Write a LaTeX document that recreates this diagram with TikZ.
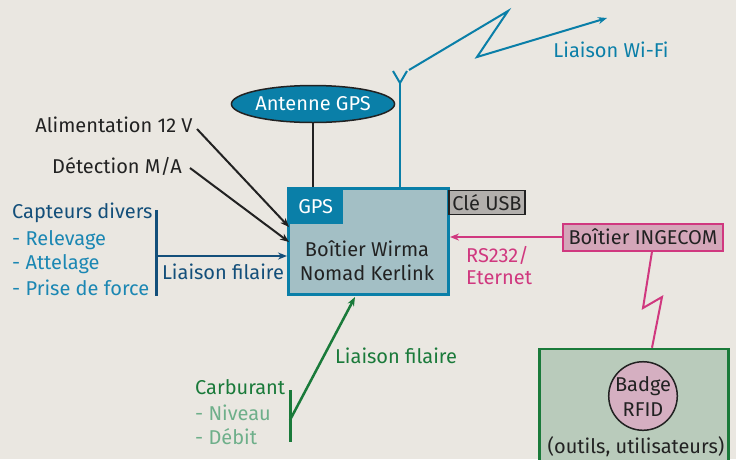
\documentclass[tikz,border=0pt]{standalone}
\usepackage{fontspec}
\setmainfont{Fira Sans}
\usetikzlibrary{arrows.meta,shapes.geometric}
\definecolor{bg}{HTML}{EAE7E1}
\definecolor{mblue}{HTML}{0A7FA8}
\definecolor{boxfill}{HTML}{A3BFC5}
\definecolor{dblue}{HTML}{134F7A}
\definecolor{lblue}{HTML}{1B87B3}
\definecolor{pinkc}{HTML}{D0387F}
\definecolor{pinkfill}{HTML}{D4A6B9}
\definecolor{dgreen}{HTML}{1A7A3A}
\definecolor{lgreen}{HTML}{6EAF8A}
\definecolor{gfill}{HTML}{B9CBBB}
\definecolor{cfill}{HTML}{D5AFC1}
\definecolor{usbfill}{HTML}{B2AFAC}
\definecolor{ink}{HTML}{222222}
\tikzset{
  txt/.style={font=\fontsize{20}{24}\selectfont, inner sep=0pt, text=ink},
  arr/.style={-{Stealth[length=9pt,width=7pt]}},
}
\begin{document}
\begin{tikzpicture}[x=1pt,y=-1pt]
\useasboundingbox[fill=bg] (0,0) rectangle (736,459);
% main box
\node[draw=mblue, line width=3pt, fill=boxfill, minimum width=160pt, minimum height=106pt, inner sep=0pt] (box) at (368.5,241.5) {};
\node[fill=mblue, minimum width=55pt, minimum height=36pt, inner sep=0pt, anchor=north west, text=white, font=\fontsize{20}{24}\selectfont] (gps) at (288,188) {GPS};
\node[txt, align=center] (wirma) at (367,261) {Boîtier Wirma\\Nomad Kerlink};
% Clé USB
\node[draw=ink, line width=1.5pt, fill=usbfill, minimum width=76pt, minimum height=24pt, inner sep=0pt, txt] (usb) at (487,202.5) {Clé USB};
% Antenne GPS
\node[ellipse, draw=ink, line width=1.5pt, fill=mblue, minimum width=128pt, minimum height=37pt, inner sep=0pt, text=white, font=\fontsize{20}{24}\selectfont] (gpsant) at (313,104) {Antenne GPS};
\draw[ink, line width=1.5pt] (gpsant.south) -- (gpsant.south |- box.north);
% Wi-Fi antenna
\coordinate (ant) at (400,83);
\coordinate (wifi) at (607,18);
\draw[mblue, line width=2pt] (ant |- box.north) -- (ant);
\draw[mblue, line width=2pt] (393,71) -- (ant) -- (407,71);
\draw[mblue, line width=2pt, arr] (409,70) -- (508,11) -- (477,57) -- (wifi);
\node[txt, text=mblue] (wifilbl) at (611,50) {Liaison Wi-Fi};
% Alimentation / Détection
\node[txt] (alim) at (114,125) {Alimentation 12 V};
\node[txt] (detect) at (117,166) {Détection M/A};
\coordinate (alimEnd) at (289,227);
\coordinate (detEnd) at (289,242);
\draw[ink, line width=2pt, arr] (197,129) -- (alimEnd);
\draw[ink, line width=2pt, arr] (190,168) -- (detEnd);
% Capteurs
\node[txt, text=dblue, anchor=west] (capt) at (12,213) {Capteurs divers};
\node[txt, text=lblue, anchor=west] (rel) at (12,240) {- Relevage};
\node[txt, text=lblue, anchor=west] (att) at (12,264) {- Attelage};
\node[txt, text=lblue, anchor=west] (pdf) at (12,288) {- Prise de force};
\coordinate (capTop) at (156,210);
\coordinate (capBot) at (156,296);
\coordinate (capA) at (156,256);
\draw[dblue, line width=3pt] (capTop) -- (capBot);
\draw[dblue, line width=2.5pt, arr] (capA) -- (capA -| box.west);
\node[txt, text=dblue] (lf1) at (223,272) {Liaison filaire};
% Carburant
\node[txt, text=dgreen, anchor=west] (carb) at (195,387) {Carburant};
\node[txt, text=lgreen, anchor=west] (niv) at (195,413) {- Niveau};
\node[txt, text=lgreen, anchor=west] (deb) at (195,437) {- Débit};
\coordinate (carTop) at (290,390);
\coordinate (carBot) at (290,442);
\coordinate (carA) at (290,420);
\coordinate (carEnd) at (355,297);
\draw[dgreen, line width=3pt] (carTop) -- (carBot);
\draw[dgreen, line width=2.5pt, arr] (carA) -- (carEnd);
\node[txt, text=dgreen] (lf2) at (396,356) {Liaison filaire};
% INGECOM
\node[draw=pinkc, line width=2pt, fill=pinkfill, minimum width=160pt, minimum height=27pt, inner sep=0pt, txt] (ingecom) at (643,237) {Boîtier INGECOM};
\draw[pinkc, line width=2pt, arr] (ingecom.west) -- (ingecom.west -| box.east);
\node[txt, text=pinkc, anchor=west] (rs1) at (466,255) {RS232/};
\node[txt, text=pinkc, anchor=west] (rs2) at (466,278) {Eternet};
% RFID box
\node[draw=dgreen, line width=2.5pt, fill=gfill, minimum width=189pt, minimum height=122pt, inner sep=0pt] (rfidbox) at (634,410) {};
\draw[pinkc, line width=2pt] ([xshift=9pt]ingecom.south) -- (643,308) -- (662,297) -- ([xshift=18pt]rfidbox.north);
\node[circle, draw=ink, line width=1.5pt, fill=cfill, minimum size=68pt, inner sep=0pt, txt, align=center, font=\fontsize{20}{25}\selectfont] (badge) at (643,396) {Badge\\RFID};
\node[txt] (outils) at (636,447) {(outils, utilisateurs)};
\end{tikzpicture}
\end{document}
